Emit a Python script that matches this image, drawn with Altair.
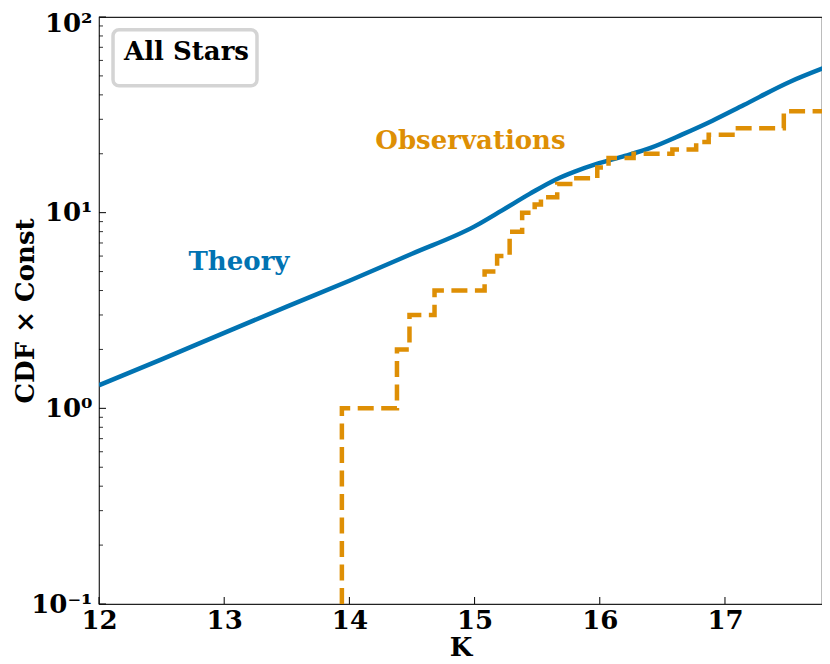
import altair as alt
import pandas as pd

# ---- data ----
theory_K = [12.0, 12.5, 13.0, 13.5, 14.0, 14.5, 15.0, 15.22, 15.44, 15.65, 15.8,
            15.97, 16.2, 16.4, 16.66, 16.9, 17.15, 17.52, 17.78]
theory_v = [1.312, 1.778, 2.432, 3.311, 4.487, 6.166, 8.511, 10.28, 12.47, 14.79, 16.22,
            17.70, 19.50, 21.38, 25.12, 29.51, 35.48, 46.67, 54.58]

obs_K = [13.94, 13.94, 14.38, 14.48, 14.68, 15.08, 15.18, 15.28, 15.38, 15.48,
         15.53, 15.66, 15.79, 15.98, 16.07, 16.27, 16.58, 16.77, 16.87, 17.06,
         17.47, 17.78]
obs_v = [0.1, 1, 2, 3, 4, 5, 6, 8, 10, 11,
         12, 14, 15, 17, 19, 20, 21, 23, 25, 27,
         33, 33]

x_ticks = [12, 13, 14, 15, 16, 17]
y_major = [0.1, 1, 10, 100]
y_minor = [m * d for d in (0.1, 1, 10) for m in range(2, 10)]

# annotation anchors (data coordinates)
theory_lbl = {"K": [13.118], "v": [5.1], "t": ["Theory"]}
obs_lbl = {"K": [14.967], "v": [21.2], "t": ["Observations"]}
box_lbl = {"K": [12.20], "v": [60.5], "t": ["All Stars"]}
box = {"K": [12.112], "K2": [13.262], "v": [86.0], "v2": [44.5]}

BLUE = "#0173B2"
ORANGE = "#DE8F05"
FONT = "DejaVu Serif"
W, H = 723, 587

xs = alt.Scale(domain=[12, 17.775], nice=False, zero=False)
ys = alt.Scale(type="log", domain=[0.1, 100], nice=False)

y_expr = ("datum.value >= 50 ? '10\u00b2' : datum.value >= 5 ? '10\u00b9' : "
          "datum.value >= 0.5 ? '10\u2070' : '10\u207b\u00b9'")

x_axis = alt.Axis(values=x_ticks, format="d", title="K", ticks=False, domain=False,
                  grid=False, labelFontSize=26, labelFontWeight="bold", labelColor="black",
                  labelPadding=3, labelFlush=False, labelOverlap=False,
                  titleFontSize=26, titleFontWeight="bold", titleColor="black",
                  titleBaseline="alphabetic", titleY=51)
y_axis = alt.Axis(values=y_major, labelExpr=y_expr, title="CDF \u00d7 Const", ticks=False,
                  domain=False, grid=False, labelFontSize=26, labelFontWeight="bold",
                  labelColor="black", labelPadding=7, labelFlush=False, labelOverlap=False,
                  labelOffset={"condition": {"test": "datum.value >= 50", "value": 6},
                               "value": 0},
                  titleFontSize=26, titleFontWeight="bold", titleColor="black",
                  titleAngle=270, titleBaseline="alphabetic", titleX=-66, titleY=H / 2,
                  titleAlign="center")

X = lambda f="K": alt.X(f"{f}:Q", scale=xs, axis=x_axis)
Y = lambda f="v": alt.Y(f"{f}:Q", scale=ys, axis=y_axis)

df_theory = pd.DataFrame({"K": theory_K, "v": theory_v})
df_obs = pd.DataFrame({"K": obs_K, "v": obs_v})

theory = alt.Chart(df_theory).mark_line(color=BLUE, strokeWidth=4.5, clip=True,
                                        interpolate="monotone").encode(x=X(), y=Y())

obs = alt.Chart(df_obs).mark_line(color=ORANGE, strokeWidth=4.5, strokeDash=[16, 7.5],
                                  interpolate="step-after", clip=True,
                                  strokeCap="butt").encode(x=X(), y=Y())

xt = alt.Chart(pd.DataFrame({"K": x_ticks})).mark_rule(color="black", strokeWidth=1).encode(
    x=X(), y=alt.value(H), y2=alt.value(H - 7))
yt = alt.Chart(pd.DataFrame({"v": y_major})).mark_rule(color="black", strokeWidth=1).encode(
    y=Y(), x=alt.value(0), x2=alt.value(7))
ym = alt.Chart(pd.DataFrame({"v": y_minor})).mark_rule(color="black", strokeWidth=0.8).encode(
    y=Y(), x=alt.value(0), x2=alt.value(4))

boxrect = alt.Chart(pd.DataFrame(box)).mark_rect(
    fill="white", stroke="#d4d4d4", strokeWidth=3.5, cornerRadius=6).encode(
    x=X(), x2="K2:Q", y=Y(), y2="v2:Q")


def label(d, color, align="center"):
    return alt.Chart(pd.DataFrame(d)).mark_text(
        font=FONT, fontSize=26, fontWeight="bold", color=color, align=align,
        baseline="alphabetic").encode(x=X(), y=Y(), text="t:N")


chart = alt.layer(
    theory, obs, xt, yt, ym, boxrect,
    label(theory_lbl, BLUE), label(obs_lbl, ORANGE), label(box_lbl, "black", "left"),
).properties(
    width=W, height=H,
    autosize=alt.AutoSizeParams(type="none"),
    padding={"left": 91, "top": 9, "right": 0, "bottom": 56},
).configure(font=FONT).configure_view(stroke="#222222", strokeWidth=1.2)

chart.save("out.html", embed_options={"renderer": "svg", "actions": False})
